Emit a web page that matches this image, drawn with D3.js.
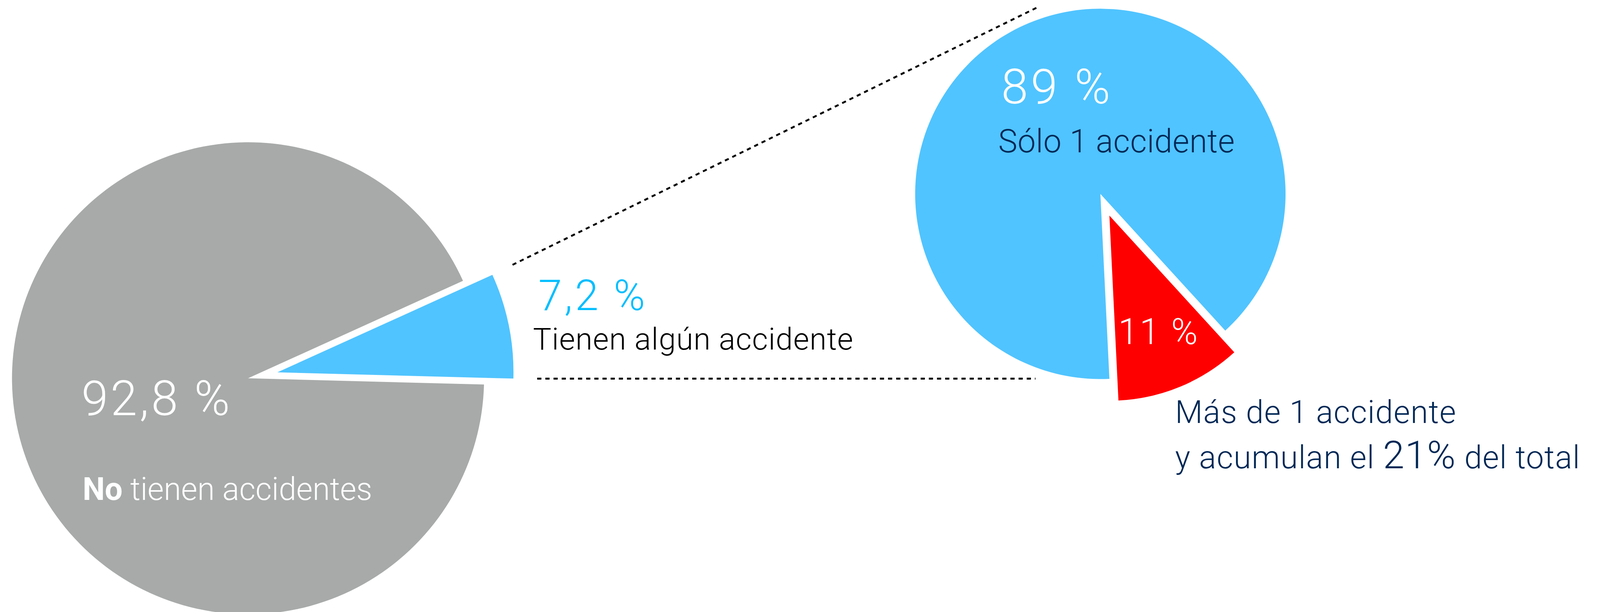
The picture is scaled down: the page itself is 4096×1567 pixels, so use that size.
<!DOCTYPE html>
<html>
<head>
<meta charset="utf-8">
<script src="https://cdn.jsdelivr.net/npm/d3@7"></script>
<style>
  html, body { margin: 0; padding: 0; background: #ffffff; overflow: hidden; }
  svg { display: block; }
  text { font-family: "Helvetica Neue", Roboto, "Liberation Sans", sans-serif; font-weight: 300; }
</style>
</head>
<body>
<svg id="chart" width="4096" height="1567" viewBox="0 0 4215 1613"></svg>
<script>
// ---- data ----
const mainCategories = ["Tienen algún accidente", "No tienen accidentes"];
const mainValues = [7.2, 92.8];
const mainLabels = ["7,2 %", "92,8 %"];

const subCategories = ["Más de 1 accidente", "Sólo 1 accidente"];
const subValues = [11, 89];
const subLabels = ["11 %", "89 %"];

const shareOfTotalLabel = "21%";

// ---- styling ----
const colGray = "#a7aaa9";
const colBlue = "#50c4ff";
const colCyanText = "#00beff";
const colRed = "#ff0000";
const colNavy = "#002856";

const svg = d3.select("#chart");
const deg = Math.PI / 180;

// ---- left pie ----
const leftCenter = [653, 997];
const leftR = 622;
const leftPie = d3.pie().sort(null)
  .startAngle(65.6 * deg).endAngle(65.6 * deg + 2 * Math.PI);
const leftArc = d3.arc().innerRadius(0).outerRadius(leftR);
const leftArcs = leftPie(mainValues);
const leftColors = [colBlue, colGray];
const leftExplode = [79, 0];

const gLeft = svg.append("g").attr("transform", `translate(${leftCenter[0]},${leftCenter[1]})`);
gLeft.selectAll("path").data(leftArcs).join("path")
  .attr("d", leftArc)
  .attr("fill", (d, i) => leftColors[i])
  .attr("transform", (d, i) => {
    const a = (d.startAngle + d.endAngle) / 2;
    return `translate(${Math.sin(a) * leftExplode[i]},${-Math.cos(a) * leftExplode[i]})`;
  });

// ---- right pie ----
const rightCenter = [2899, 511];
const rightR = 488;
const rightPie = d3.pie().sort(null)
  .startAngle(137.6 * deg).endAngle(137.6 * deg + 2 * Math.PI);
const rightArc = d3.arc().innerRadius(0).outerRadius(rightR);
const rightArcs = rightPie(subValues);
const rightColors = [colRed, colBlue];
const rightExplode = [62, 0];

const gRight = svg.append("g").attr("transform", `translate(${rightCenter[0]},${rightCenter[1]})`);
gRight.selectAll("path").data(rightArcs).join("path")
  .attr("d", rightArc)
  .attr("fill", (d, i) => rightColors[i])
  .attr("transform", (d, i) => {
    const a = (d.startAngle + d.endAngle) / 2;
    return `translate(${Math.sin(a) * rightExplode[i]},${-Math.cos(a) * rightExplode[i]})`;
  });

// ---- dashed connector lines ----
const connectors = [
  [[1350, 698], [2736, 18]],
  [[1415, 998], [2728, 998]]
];
svg.selectAll("line.conn").data(connectors).join("line")
  .attr("class", "conn")
  .attr("x1", d => d[0][0]).attr("y1", d => d[0][1])
  .attr("x2", d => d[1][0]).attr("y2", d => d[1][1])
  .attr("stroke", "#000")
  .attr("stroke-width", 5)
  .attr("stroke-dasharray", "11 10.5");

// ---- text ----
// widen the fallback font slightly (letter spacing only) to match the original typeface widths
function widen(sel, ratio) {
  const n = sel.node();
  const w = n.getComputedTextLength();
  sel.attr("textLength", w * ratio).attr("lengthAdjust", "spacing");
  return sel;
}
function addText(x, y, size, fill, str, ratio) {
  const t = svg.append("text")
    .attr("x", x).attr("y", y)
    .attr("font-size", size)
    .attr("fill", fill)
    .text(str);
  if (ratio) widen(t, ratio);
  return t;
}

// Left pie labels
addText(214, 1094, 127, "#ffffff", mainLabels[1], 1.085);
const t2 = svg.append("text").attr("x", 217).attr("y", 1318).attr("font-size", 83).attr("fill", "#ffffff");
t2.append("tspan").style("font-weight", 700).text("No");
t2.append("tspan").text(" " + mainCategories[1].replace(/^No /, ""));

// Exploded slice labels
addText(1418, 817, 112, colCyanText, mainLabels[0], 1.1);
addText(1404, 921, 81, "#000000", mainCategories[0], 1.03);

// Right pie labels
addText(2638, 273, 127, "#ffffff", subLabels[1], 1.08);
addText(2630, 401, 85, colNavy, subCategories[1], 1.013);
addText(2946, 907, 95, "#ffffff", subLabels[0], 1.055);
addText(3096, 1115, 84, colNavy, subCategories[0], 1.034);

const t3 = svg.append("text").attr("x", 3096).attr("y", 1234).attr("font-size", 84).attr("fill", colNavy);
t3.append("tspan").text("y acumulan el ");
t3.append("tspan").attr("font-size", 102).text(shareOfTotalLabel);
t3.append("tspan").text(" del total");
widen(t3, 1.034);
</script>
</body>
</html>
